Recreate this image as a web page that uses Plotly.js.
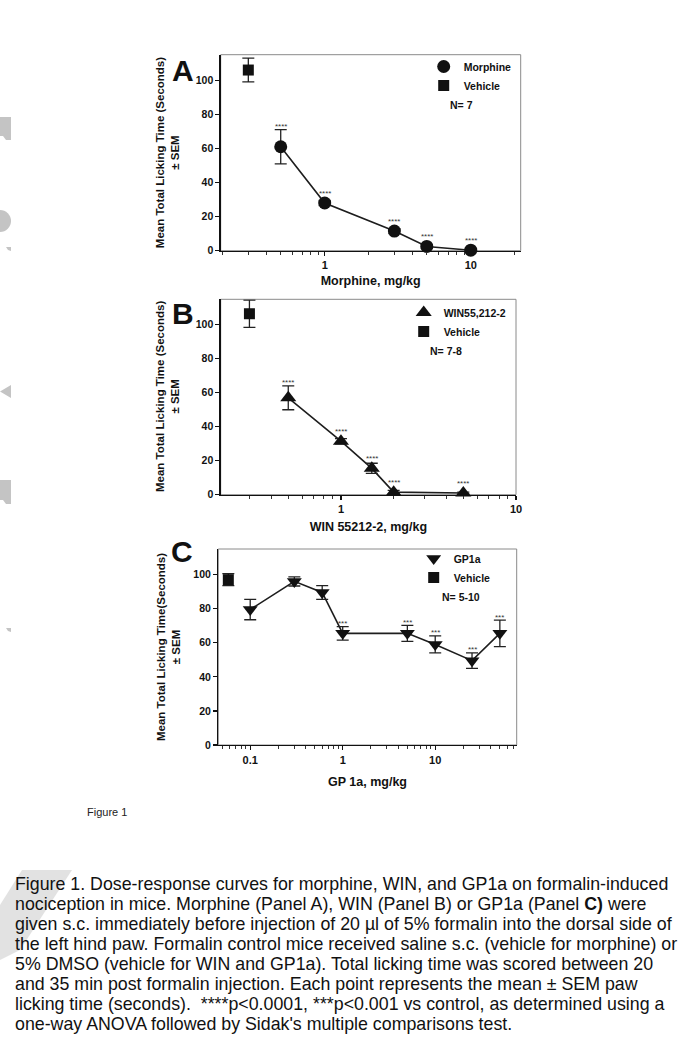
<!DOCTYPE html>
<html><head><meta charset="utf-8">
<script src="https://cdn.plot.ly/plotly-3.0.1.min.js"></script>
<style>html,body{margin:0;padding:0;background:#fff}#chart{width:700px;height:1048px}</style>
</head><body><div id="chart"></div>
<script>
// ---------- Panel A: Morphine ----------
const morphineDose = [0.5, 1, 3, 5, 10];
const morphineMean = [61, 28, 11.5, 2.5, 0.3];
const morphineSem  = [10, 1.5, 1.5, 1, 0.5];
const morphineSig  = ['****', '****', '****', '****', '****'];
const vehicleADose = [0.3];
const vehicleAMean = [106];
const vehicleASem  = [7];

// ---------- Panel B: WIN55,212-2 ----------
const winDose = [0.5, 1, 1.5, 2, 5];
const winMean = [57, 31.5, 15.5, 1.5, 1];
const winSem  = [7, 1.5, 3, 1, 0.5];
const winSig  = ['****', '****', '****', '****', '****'];
const vehicleBDose = [0.3];
const vehicleBMean = [106.5];
const vehicleBSem  = [8];

// ---------- Panel C: GP1a ----------
const gpDose = [0.1, 0.3, 0.6, 1, 5, 10, 25, 50];
const gpMean = [79.5, 96, 89.5, 65.5, 65.5, 59, 49.5, 65.5];
const gpSem  = [6, 2.7, 4, 4, 4.7, 5, 4.5, 7.8];
const gpSig  = ['', '', '', '***', '***', '***', '***', '***'];
const vehicleCDose = [0.058];
const vehicleCMean = [97];
const vehicleCSem  = [3.5];

// ---------- Axis ticks ----------
const yTicks = [0, 20, 40, 60, 80, 100];
const xTicksA = [1, 10], xMinorA = [0.2,0.3,0.4,0.5,0.6,0.7,0.8,0.9,2,3,4,5,6,7,8,9,20];
const xTicksB = [1, 10], xMinorB = [0.3,0.4,0.5,0.6,0.7,0.8,0.9,2,3,4,5,6,7,8,9];
const xTicksC = [0.1, 1, 10], xMinorC = [0.05,0.06,0.07,0.08,0.09,0.2,0.3,0.4,0.5,0.6,0.7,0.8,0.9,2,3,4,5,6,7,8,9,20,30,40,50,60,70];

const captionLines = [
  'Figure 1. Dose-response curves for morphine, WIN, and GP1a on formalin-induced',
  'nociception in mice. Morphine (Panel A), WIN (Panel B) or GP1a (Panel <b>C)</b> were',
  'given s.c. immediately before injection of 20 µl of 5% formalin into the dorsal side of',
  'the left hind paw. Formalin control mice received saline s.c. (vehicle for morphine) or',
  '5% DMSO (vehicle for WIN and GP1a). Total licking time was scored between 20',
  'and 35 min post formalin injection. Each point represents the mean ± SEM paw',
  'licking time (seconds).  ****p&lt;0.0001, ***p&lt;0.001 vs control, as determined using a',
  'one-way ANOVA followed by Sidak\'s multiple comparisons test.'
];

// ---------- layout helpers ----------
const W = 700, H = 1048;
const px = p => p / W;
const py = p => 1 - p / H;
const FONT = 'Liberation Sans, Arial, Helvetica, sans-serif';
const INK = '#111111';
const YMAX = 115;

const panels = [
  {key: '', x0: 220.7, x1: 520.7, y0: 54.7, y1: 250.7, xr: [-0.712, 1.342],
   ticks: xTicksA, minor: xMinorA, title: 'Morphine, mg/kg', standoff: 6,
   ytitle: 'Mean Total Licking Time (Seconds)<br>± SEM', ytx: 167.5,
   letter: 'A', lx: 183.5, ly: 71,
   legend: {x: 423.7, y: 52}, n: 'N= 7', nx: 448, ny: 105},
  {key: '2', x0: 220.7, x1: 516, y0: 299.3, y1: 494.7, xr: [-0.687, 1.0],
   ticks: xTicksB, minor: xMinorB, title: 'WIN 55212-2, mg/kg', standoff: 8,
   ytitle: 'Mean Total Licking Time (Seconds)<br>± SEM', ytx: 168,
   letter: 'B', lx: 183, ly: 313,
   legend: {x: 403.7, y: 298}, n: 'N= 7-8', nx: 428, ny: 350.7},
  {key: '3', x0: 218.3, x1: 516.7, y0: 549, y1: 745, xr: [-1.345, 1.881],
   ticks: xTicksC, minor: xMinorC, title: 'GP 1a, mg/kg', standoff: 12,
   ytitle: 'Mean Total Licking Time(Seconds)<br>± SEM', ytx: 168,
   letter: 'C', lx: 181.5, ly: 551,
   legend: {x: 413.7, y: 544}, n: 'N= 5-10', nx: 440, ny: 596.7}
];

const series = [
  {dose: morphineDose, mean: morphineMean, sem: morphineSem, sig: morphineSig, name: 'Morphine', symbol: 'circle', size: 13,
   vDose: vehicleADose, vMean: vehicleAMean, vSem: vehicleASem},
  {dose: winDose, mean: winMean, sem: winSem, sig: winSig, name: 'WIN55,212-2', symbol: 'triangle-up', size: 14,
   vDose: vehicleBDose, vMean: vehicleBMean, vSem: vehicleBSem},
  {dose: gpDose, mean: gpMean, sem: gpSem, sig: gpSig, name: 'GP1a', symbol: 'triangle-down', size: 13,
   vDose: vehicleCDose, vMean: vehicleCMean, vSem: vehicleCSem}
];

const data = [];
const layout = {
  width: W, height: H,
  margin: {l: 0, r: 0, t: 0, b: 0},
  paper_bgcolor: '#ffffff', plot_bgcolor: 'rgba(0,0,0,0)',
  showlegend: true,
  font: {family: FONT, color: INK},
  annotations: [], shapes: []
};

panels.forEach((p, i) => {
  const s = series[i];
  const xa = 'x' + p.key, ya = 'y' + p.key;
  const legendId = 'legend' + p.key;
  const err = arr => ({type: 'data', array: arr, visible: true, color: '#222', thickness: 1.3, width: 6});

  data.push({x: s.dose, y: s.mean, mode: 'lines', xaxis: xa, yaxis: ya, showlegend: false,
             line: {color: '#1e1e1e', width: 1.6}, hoverinfo: 'skip', cliponaxis: false});
  data.push({x: s.dose, y: s.mean, mode: 'markers', name: s.name, xaxis: xa, yaxis: ya, legend: legendId,
             marker: {symbol: s.symbol, size: s.size, color: INK}, error_y: err(s.sem), cliponaxis: false});
  data.push({x: s.vDose, y: s.vMean, mode: 'markers', name: 'Vehicle', xaxis: xa, yaxis: ya, legend: legendId,
             marker: {symbol: 'square', size: 11, color: INK}, error_y: err(s.vSem), cliponaxis: false});

  layout['xaxis' + p.key] = {
    type: 'log', domain: [px(p.x0), px(p.x1)], range: p.xr, anchor: ya,
    tickmode: 'array', tickvals: p.ticks, ticktext: p.ticks.map(String),
    ticks: 'outside', ticklen: 4, tickwidth: 1.2, tickcolor: INK,
    minor: {tickmode: 'array', tickvals: p.minor, ticks: 'outside', ticklen: 2.5, tickwidth: 1, tickcolor: '#333'},
    showline: true, linecolor: INK, linewidth: 1.3, showgrid: false, zeroline: false,
    tickfont: {family: FONT, size: 11, weight: 'bold', color: INK},
    title: {text: p.title, standoff: p.standoff, font: {family: FONT, size: 12.5, weight: 'bold', color: INK}}
  };
  layout['yaxis' + p.key] = {
    domain: [py(p.y1), py(p.y0)], range: [0, YMAX], anchor: xa,
    tickmode: 'array', tickvals: yTicks, ticks: 'outside', ticklen: 4, tickwidth: 1.2, tickcolor: INK,
    showline: true, linecolor: INK, linewidth: 1.3, showgrid: false, zeroline: false,
    tickfont: {family: FONT, size: 10.5, weight: 'bold', color: INK}
  };
  layout[legendId] = {
    x: px(p.legend.x), y: py(p.legend.y), xanchor: 'left', yanchor: 'top',
    bgcolor: 'rgba(0,0,0,0)', borderwidth: 0, itemclick: false, itemdoubleclick: false,
    font: {family: FONT, size: 10.5, weight: 'bold', color: INK}
  };

  // frame
  layout.shapes.push({type: 'rect', xref: xa + ' domain', yref: ya + ' domain', x0: 0, x1: 1, y0: 0, y1: 1,
                      line: {color: '#8a8a8a', width: 1}, layer: 'below'});

  // y title
  layout.annotations.push({xref: 'paper', yref: 'paper', x: px(p.ytx), y: py((p.y0 + p.y1) / 2),
    xanchor: 'center', yanchor: 'middle', textangle: -90, showarrow: false, text: p.ytitle,
    font: {family: FONT, size: 11.5, weight: 'bold', color: INK}});
  // panel letter
  layout.annotations.push({xref: 'paper', yref: 'paper', x: px(p.lx), y: py(p.ly),
    xanchor: 'center', yanchor: 'middle', showarrow: false, text: p.letter, borderpad: 0,
    font: {family: FONT, size: 30, weight: 'bold', color: INK}});
  // N label
  layout.annotations.push({xref: 'paper', yref: 'paper', x: px(p.nx), y: py(p.ny),
    xanchor: 'left', yanchor: 'middle', showarrow: false, text: p.n,
    font: {family: FONT, size: 10.5, weight: 'bold', color: INK}});

  // significance stars
  const pxPerUnit = (p.y1 - p.y0) / YMAX;
  s.dose.forEach((d, j) => {
    if (!s.sig[j]) return;
    const shift = 3 + Math.max(0, 6.5 - s.sem[j] * pxPerUnit);
    layout.annotations.push({xref: xa, yref: ya, x: Math.log10(d), y: s.mean[j] + s.sem[j],
      xanchor: 'center', yanchor: 'middle', yshift: shift, showarrow: false, text: s.sig[j],
      font: {family: FONT, size: 8, color: '#333'}});
  });
});

// "Figure 1" label
layout.annotations.push({xref: 'paper', yref: 'paper', x: px(85), y: py(812), xanchor: 'left', yanchor: 'middle',
  showarrow: false, text: 'Figure 1', font: {family: FONT, size: 11, color: '#222'}});

// caption
captionLines.forEach((t, i) => {
  layout.annotations.push({xref: 'paper', yref: 'paper', x: px(12.7), y: py(883.5 + i * 20),
    xanchor: 'left', yanchor: 'middle', showarrow: false, text: t,
    font: {family: FONT, size: 17.8, color: INK}});
});

// faint grey watermark fragments on the left edge
const wm = '#c4c4c4';
const pathPx = pts => 'M ' + pts.map(q => px(q[0]) + ',' + py(q[1])).join(' L ') + ' Z';
layout.shapes.push(
  {type: 'path', xref: 'paper', yref: 'paper', path: pathPx([[0,117],[11,117],[11,140],[6,140],[3,136],[0,136]]), fillcolor: wm, line: {width: 0}, layer: 'below'},
  {type: 'circle', xref: 'paper', yref: 'paper', x0: px(-11), x1: px(11), y0: py(232), y1: py(210), fillcolor: wm, line: {width: 0}, layer: 'below'},
  {type: 'path', xref: 'paper', yref: 'paper', path: pathPx([[6,247],[11,247],[11,251],[8,250]]), fillcolor: wm, line: {width: 0}, layer: 'below'},
  {type: 'path', xref: 'paper', yref: 'paper', path: pathPx([[11,385],[0,391.5],[11,398]]), fillcolor: wm, line: {width: 0}, layer: 'below'},
  {type: 'path', xref: 'paper', yref: 'paper', path: pathPx([[0,480],[11,480],[11,504],[6,504],[3,500],[0,500]]), fillcolor: wm, line: {width: 0}, layer: 'below'},
  {type: 'path', xref: 'paper', yref: 'paper', path: pathPx([[6,628],[11,628],[11,632],[8,631]]), fillcolor: wm, line: {width: 0}, layer: 'below'},
  {type: 'path', xref: 'paper', yref: 'paper', path: pathPx([[22,870],[72,870],[20,950],[0,960],[0,905]]), fillcolor: '#e2e2e2', line: {width: 0}, layer: 'below'}
);

Plotly.newPlot('chart', data, layout, {staticPlot: true, displayModeBar: false});
</script>
</body></html>
